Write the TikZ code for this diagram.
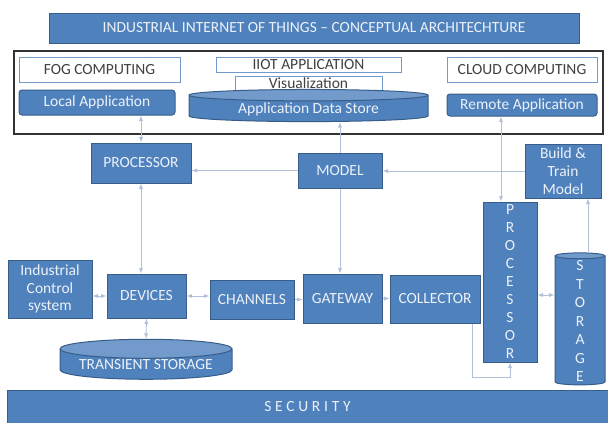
\documentclass[tikz,border=0pt]{standalone}
\usepackage{fontspec}
\setmainfont{Carlito}
\usetikzlibrary{shapes.geometric}
\definecolor{boxblue}{RGB}{79,129,189}
\definecolor{boxedge}{RGB}{56,93,138}
\definecolor{linkgray}{RGB}{178,193,218}
\definecolor{pale}{RGB}{236,241,248}

\begin{document}
\begin{tikzpicture}[x=1pt,y=-1pt,>=latex,
  bluebox/.style={rectangle, draw=boxedge, fill=boxblue, text=pale, line width=1pt,
    inner sep=1pt, align=center, font=\fontsize{15.5}{18}\selectfont},
  whitebox/.style={rectangle, draw=boxblue!80, fill=white, text=black!75, line width=1pt,
    inner sep=1pt, font=\fontsize{15.5}{18}\selectfont},
  drum/.style={cylinder, shape border rotate=90, draw=boxedge, line width=1pt,
    cylinder uses custom fill, cylinder body fill=boxblue, cylinder end fill=boxblue!80!white,
    text=pale, inner sep=1pt, align=center, font=\fontsize{15.5}{18}\selectfont},
  link/.style={draw=linkgray, line width=0.9pt}]
 \useasboundingbox (0,0) rectangle (608,423);

 % top band and application frame
 \node (title) [bluebox, minimum width=530pt, minimum height=30pt] at (314,28)
   {INDUSTRIAL INTERNET OF THINGS -- CONCEPTUAL ARCHITECHTURE};
 \draw[black!80, line width=1.6pt] (14,51) rectangle (603,134);
 \node (fog) [whitebox, minimum width=161pt, minimum height=25pt] at (99.5,69.5) {FOG COMPUTING};
 \node (local) [bluebox, rounded corners=3pt, minimum width=156pt, minimum height=25pt] at (97,102.5) {Local Application};
 \node (iiot) [whitebox, minimum width=185pt, minimum height=15pt] at (308.5,64.5) {IIOT APPLICATION};
 \node (vis) [whitebox, minimum width=147pt, minimum height=15pt] at (308.5,83.5) {Visualization};
 \node (ads) [drum, aspect=0.08, minimum width=239pt, minimum height=28pt] at (308.5,109) {Application Data Store};
 \node (cloud) [whitebox, minimum width=150pt, minimum height=25pt] at (522,69.5) {CLOUD COMPUTING};
 \node (remote) [bluebox, rounded corners=3pt, minimum width=150pt, minimum height=22pt] at (522,105) {Remote Application};

 % middle row
 \node (proc) [bluebox, minimum width=100pt, minimum height=40pt] at (141,163) {PROCESSOR};
 \node (model) [bluebox, minimum width=84pt, minimum height=35pt] at (340,170.5) {MODEL};
 \node (train) [bluebox, minimum width=76pt, minimum height=54pt] at (563,171) {Build \&\\Train\\Model};
 \node (vproc) [bluebox, minimum width=54pt, minimum height=160pt, font=\fontsize{15.5}{18}\selectfont] at (510,282)
   {P\\R\\O\\C\\E\\S\\S\\O\\R};
 \node (store) [drum, aspect=0.48, minimum width=50pt, minimum height=132pt, font=\fontsize{15.5}{18.5}\selectfont] at (580,321)
   {S\\T\\O\\R\\A\\G\\E};

 % device row
 \node (ics) [bluebox, minimum width=84pt, minimum height=58pt, font=\fontsize{15.5}{17.5}\selectfont] at (50,289) {Industrial\\Control\\system};
 \node (dev) [bluebox, minimum width=79pt, minimum height=44pt] at (146.5,296) {DEVICES};
 \node (chan) [bluebox, minimum width=84pt, minimum height=39pt] at (252,299.5) {CHANNELS};
 \node (gate) [bluebox, minimum width=79pt, minimum height=49pt] at (342.5,298.5) {GATEWAY};
 \node (coll) [bluebox, minimum width=90pt, minimum height=48pt] at (435,299) {COLLECTOR};
 \node (trans) [drum, aspect=0.14, minimum width=172pt, minimum height=40pt] at (146,365) {TRANSIENT STORAGE};
 \node (sec) [bluebox, minimum width=601pt, minimum height=33pt, font=\fontsize{15.5}{18}\selectfont\addfontfeature{LetterSpace=24}] at (307.5,406.5) {SECURITY};

 % links
 \draw[link,<->] (proc.north) -- (proc.north |- local.south);
 \draw[link,<->] (proc.south) -- (proc.south |- dev.north);
 \draw[link,->] (model.west) -- (model.west -| proc.east);
 \draw[link,->] (train.west) -- (train.west -| model.east);
 \draw[link,->] (model.north) -- (model.north |- ads.south);
 \draw[link,->] (model.south) -- (model.south |- gate.north);
 \draw[link,<->] ([xshift=-9pt]vproc.north) -- ([xshift=-9pt]vproc.north |- remote.south);
 \draw[link,->] ([xshift=8pt]store.north) -- ([xshift=8pt]store.north |- train.south);
 \draw[link,<->] ([yshift=-13pt]vproc.east) -- ([yshift=-13pt]vproc.east -| store.west);
 \draw[link,<->] (dev.west) -- (dev.west -| ics.east);
 \draw[link,<->] (dev.east) -- (dev.east -| chan.west);
 \draw[link,->] (chan.east) -- (chan.east -| gate.west);
 \draw[link,->] (gate.east) -- (gate.east -| coll.west);
 \draw[link,<->] (dev.south) -- (trans.north);
 \draw[link,->] ([xshift=37pt]coll.south) -- ++(0,54) -| (vproc.south);
\end{tikzpicture}
\end{document}
